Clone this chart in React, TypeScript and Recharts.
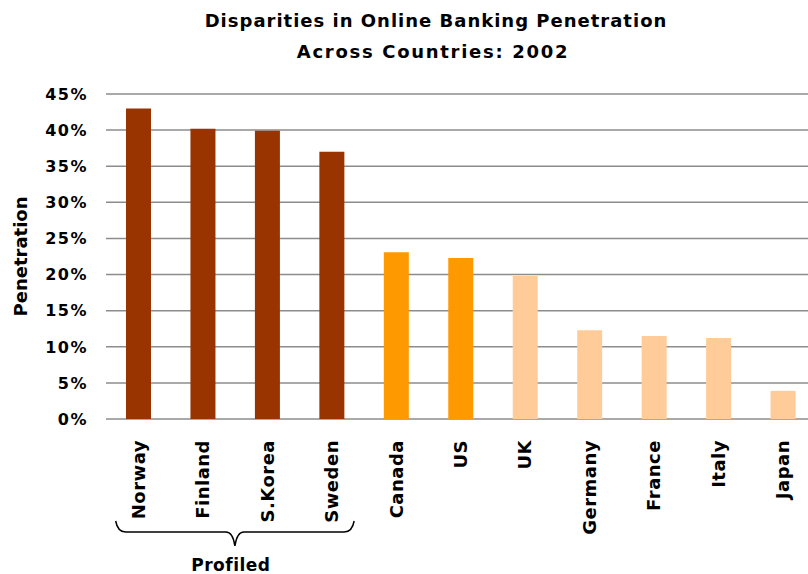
import React from 'react';
import { BarChart, Bar, XAxis, YAxis, CartesianGrid, Cell, Customized } from 'recharts';

const countries = ['Norway', 'Finland', 'S.Korea', 'Sweden', 'Canada', 'US', 'UK', 'Germany', 'France', 'Italy', 'Japan'];
const penetration = [43.0, 40.2, 39.9, 37.0, 23.1, 22.3, 19.8, 12.3, 11.5, 11.2, 3.9];
const groups = ['profiled', 'profiled', 'profiled', 'profiled', 'mid', 'mid', 'low', 'low', 'low', 'low', 'low'];
const yTicks = [0, 5, 10, 15, 20, 25, 30, 35, 40, 45];
const titleLines = ['Disparities in Online Banking Penetration', 'Across Countries: 2002'];
const yLabel = 'Penetration';
const braceLabel = 'Profiled';
const profiledRange = [0, 3];

const groupColors: Record<string, string> = {
  profiled: '#993300',
  mid: '#FF9900',
  low: '#FFCC99',
};

const data = countries.map((c, i) => ({ country: c, value: penetration[i], group: groups[i] }));

const FONT = '"DejaVu Sans", Verdana, sans-serif';
const CHART_W = 815;
const CHART_H = 574;
const MARGIN = { top: 94, right: 0, left: 0, bottom: 0 };
const YAXIS_W = 106;
const XAXIS_H = 155;

const XTick = (props: any) => {
  const { x, y, payload } = props;
  return (
    <text
      transform={`translate(${x},${y + 21}) rotate(-90)`}
      textAnchor="end"
      dy="0.36em"
      fontFamily={FONT}
      fontWeight="bold"
      fontSize={18}
      letterSpacing={0.5}
      fill="#000"
    >
      {payload.value}
    </text>
  );
};

const YTick = (props: any) => {
  const { y, payload } = props;
  return (
    <text
      x={88}
      y={y}
      textAnchor="end"
      dy="0.36em"
      fontFamily={FONT}
      fontWeight="bold"
      fontSize={16}
      letterSpacing={1.5}
      fill="#000"
    >
      {`${payload.value}%`}
    </text>
  );
};

const Decorations = () => {
  const plotLeft = MARGIN.left + YAXIS_W;
  const plotW = CHART_W - plotLeft - MARGIN.right;
  const band = plotW / countries.length;
  const x0 = plotLeft + band * profiledRange[0] + band * 0.15;
  const x1 = plotLeft + band * (profiledRange[1] + 1) - band * 0.15;
  const mid = (x0 + x1) / 2;
  const yTop = 521;
  const yLine = 532;
  const yTip = 546;
  const path = `M ${x0} ${yTop} Q ${x0 + 2} ${yLine} ${x0 + 10} ${yLine} L ${mid - 9} ${yLine} Q ${mid - 2} ${yLine} ${mid} ${yTip} Q ${mid + 2} ${yLine} ${mid + 9} ${yLine} L ${x1 - 10} ${yLine} Q ${x1 - 2} ${yLine} ${x1} ${yTop}`;
  return (
    <g>
      <text x={436} y={27} textAnchor="middle" fontFamily={FONT} fontWeight="bold" fontSize={18} letterSpacing={1} fill="#000">
        {titleLines[0]}
      </text>
      <text x={433} y={58} textAnchor="middle" fontFamily={FONT} fontWeight="bold" fontSize={18} letterSpacing={1.7} fill="#000">
        {titleLines[1]}
      </text>
      <text
        transform={`translate(21,${(94 + 419) / 2}) rotate(-90)`}
        textAnchor="middle"
        dy="0.36em"
        fontFamily={FONT}
        fontWeight="bold"
        fontSize={18}
        fill="#000"
      >
        {yLabel}
      </text>
      <path d={path} fill="none" stroke="#000" strokeWidth={1.5} />
      <text x={mid - 4} y={571} textAnchor="middle" fontFamily={FONT} fontWeight="bold" fontSize={17} letterSpacing={0.5} fill="#000">
        {braceLabel}
      </text>
    </g>
  );
};

export default function App() {
  return (
    <div style={{ position: 'absolute', left: 0, top: 0, width: 808, height: 574, overflow: 'hidden', background: '#fff' }}>
      <BarChart width={CHART_W} height={CHART_H} data={data} margin={MARGIN}>
        <CartesianGrid horizontal vertical={false} stroke="#8c8c8c" strokeWidth={1.5} />
        <XAxis
          dataKey="country"
          interval={0}
          height={XAXIS_H}
          axisLine={false}
          tickLine={false}
          tickSize={0}
          tickMargin={0}
          tick={<XTick />}
        />
        <YAxis
          width={YAXIS_W}
          domain={[0, 45]}
          ticks={yTicks}
          interval={0}
          axisLine={false}
          tickLine={false}
          tickSize={0}
          tick={<YTick />}
        />
        <Bar dataKey="value" barSize={25} isAnimationActive={false}>
          {data.map((d, i) => (
            <Cell key={i} fill={groupColors[d.group]} />
          ))}
        </Bar>
        <Customized component={<Decorations />} />
      </BarChart>
    </div>
  );
}
